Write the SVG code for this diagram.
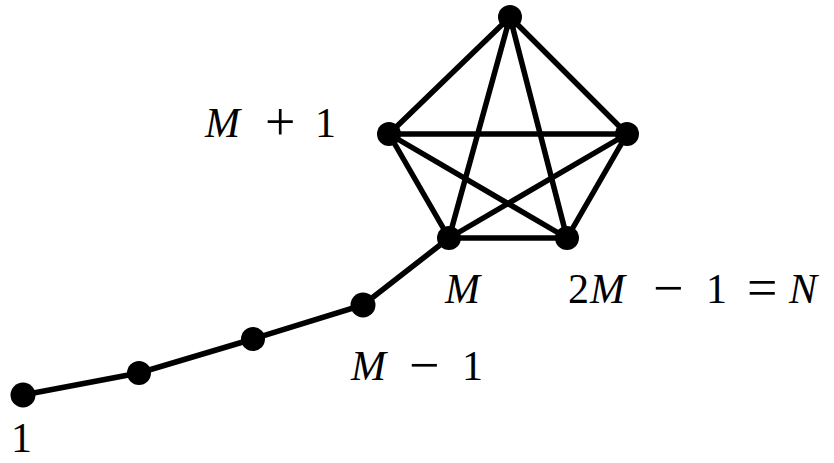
<svg xmlns="http://www.w3.org/2000/svg" width="834" height="463" viewBox="0 0 834 463">
<style>
.e{stroke:#000;stroke-width:5.5;fill:none;stroke-linecap:round}
.n{fill:#000}
text{font-family:"Liberation Serif","Times New Roman",serif;font-size:42px;fill:#000}
.i{font-style:italic}
.o{font-size:54px}
</style>
<rect width="834" height="463" fill="#fff"/>
<g id="connectors">
<line class="e" x1="510" y1="17" x2="389" y2="134"/>
<line class="e" x1="510" y1="17" x2="627" y2="134"/>
<line class="e" x1="510" y1="17" x2="449" y2="238"/>
<line class="e" x1="510" y1="17" x2="567" y2="238"/>
<line class="e" x1="389" y1="134" x2="627" y2="134"/>
<line class="e" x1="389" y1="134" x2="449" y2="238"/>
<line class="e" x1="389" y1="134" x2="567" y2="238"/>
<line class="e" x1="627" y1="134" x2="449" y2="238"/>
<line class="e" x1="627" y1="134" x2="567" y2="238"/>
<line class="e" x1="449" y1="238" x2="567" y2="238"/>
<polyline class="e" points="449,238 363,305 253,339 139,373 23,395"/>
</g>
<g id="n_top"><circle class="n" cx="510" cy="17" r="12"/></g>
<g id="n_M1"><circle class="n" cx="389" cy="134" r="12"/>
<text><tspan class="i" x="205" y="137">M</tspan><tspan class="o" x="265" y="140">+</tspan><tspan x="315" y="137">1</tspan></text></g>
<g id="n_right"><circle class="n" cx="627" cy="134" r="12"/></g>
<g id="n_M"><circle class="n" cx="449" cy="238" r="12"/>
<text class="i" x="445" y="303">M</text></g>
<g id="n_N"><circle class="n" cx="567" cy="238" r="12"/>
<text><tspan x="568" y="303">2</tspan><tspan class="i" x="590" y="303">M</tspan><tspan class="o" x="653" y="306">−</tspan><tspan x="706" y="303">1</tspan><tspan class="o" x="747" y="306">=</tspan><tspan class="i" x="789" y="303">N</tspan></text></g>
<g id="n_Mm1"><circle class="n" cx="363" cy="305" r="12.5"/>
<text><tspan class="i" x="351" y="380">M</tspan><tspan class="o" x="409" y="383">−</tspan><tspan x="462" y="380">1</tspan></text></g>
<g id="n_3"><circle class="n" cx="253" cy="339" r="12"/></g>
<g id="n_2"><circle class="n" cx="139" cy="373" r="12"/></g>
<g id="n_1"><circle class="n" cx="23" cy="395" r="12.5"/>
<text x="11" y="452">1</text></g>
</svg>
